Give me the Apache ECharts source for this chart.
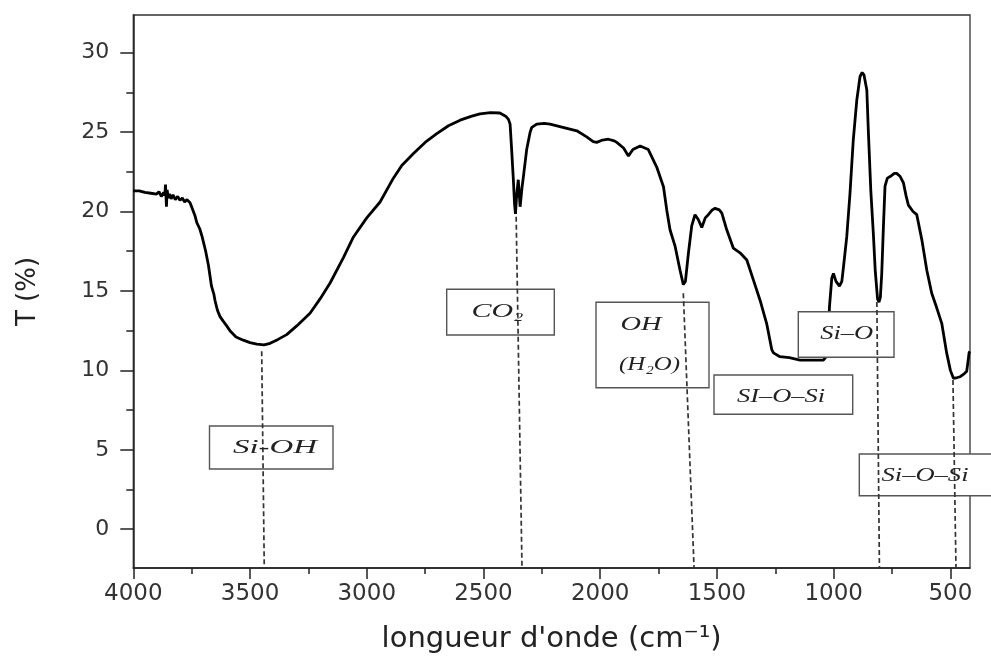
<!DOCTYPE html>
<html><head><meta charset="utf-8">
<script src="https://cdn.jsdelivr.net/npm/echarts@6/dist/echarts.min.js"></script>
<style>html,body{margin:0;padding:0;background:#fff}#c{width:991px;height:657px}</style>
</head><body><div id="c"></div>
<script>
// ---- data ----
const wavenumber = [
  4000,3975,3950,3925,3900,3890,3880,3870,3865,3862,
  3858,3855,3850,3845,3838,3830,3820,3810,3800,3790,
  3780,3770,3757,3745,3735,3728,3715,3705,3700,3690,
  3686,3678,3672,3665,3660,3655,3650,3645,3640,3629,
  3615,3600,3586,3560,3529,3500,3471,3440,3414,3380,
  3343,3300,3243,3200,3157,3100,3057,3000,2943,2886,
  2850,2800,2750,2700,2650,2600,2550,2515,2470,2430,
  2405,2393,2386,2379,2372,2367,2363,2358,2351,2343,
  2335,2329,2315,2300,2293,2272,2240,2215,2160,2100,
  2058,2030,2015,1990,1965,1940,1929,1900,1879,1860,
  1829,1794,1758,1729,1715,1701,1679,1658,1644,1635,
  1622,1608,1594,1580,1565,1550,1537,1520,1508,1490,
  1479,1458,1430,1401,1372,1344,1315,1287,1265,1258,
  1230,1190,1144,1100,1044,1030,1025,1018,1008,1001,
  990,975,965,958,944,930,916,901,887,878,
  870,858,851,841,830,822,812,806,800,794,
  787,780,770,758,740,730,715,701,690,680,
  660,644,622,601,580,560,537,516,500,487,
  470,458,440,430,425,420,417
];
const transmittance = [
  21.3,21.3,21.2,21.15,21.1,21.25,20.95,21.2,21.0,21.7,
  20.3,21.35,20.85,21.1,20.8,21.05,20.75,20.95,20.7,20.85,
  20.6,20.75,20.55,20.1,19.7,19.3,18.9,18.4,18.3,17.5,
  17.2,16.6,16.0,15.3,15.2,14.8,14.4,14.3,13.8,13.4,
  13.1,12.8,12.5,12.1,11.9,11.75,11.65,11.6,11.7,11.95,
  12.25,12.8,13.6,14.5,15.5,17.1,18.4,19.6,20.6,22.1,
  22.9,23.65,24.35,24.9,25.4,25.75,26.0,26.15,26.22,26.2,
  26.0,25.8,25.5,23.8,22.0,20.5,19.85,21.0,22.0,20.3,
  21.5,22.2,23.9,25.0,25.3,25.5,25.55,25.5,25.3,25.08,
  24.7,24.4,24.35,24.5,24.55,24.45,24.35,24.0,23.5,23.9,
  24.12,23.9,22.8,21.56,20.1,18.85,17.8,16.3,15.4,15.6,
  17.4,19.1,19.8,19.5,19.0,19.6,19.8,20.1,20.2,20.1,
  19.9,18.85,17.7,17.4,16.95,15.7,14.4,12.95,11.3,11.1,
  10.86,10.8,10.65,10.65,10.65,10.9,11.5,14.0,15.8,16.1,
  15.6,15.3,15.6,16.5,18.4,21.15,24.5,27.0,28.5,28.75,
  28.6,27.65,24.9,21.35,18.6,16.3,14.5,14.3,14.6,16.1,
  19.0,21.6,22.1,22.2,22.4,22.4,22.2,21.8,21.0,20.4,
  20.0,19.8,18.2,16.3,14.85,14.0,12.96,11.1,10.0,9.5,
  9.55,9.6,9.8,9.95,10.5,11.1,11.2
];
const xTickValues = [4000,3500,3000,2500,2000,1500,1000,500];
const xMinorTickValues = [3750,3250,2750,2250,1750,1250,750];
const yTickValues = [0,5,10,15,20,25,30];
const yMinorTickValues = [2.5,7.5,12.5,17.5,22.5,27.5];

// band assignments: dashed guide from peak (x,T) down to the axis at baseX
const bandNames = ['Si-OH','CO₂','OH (H₂O)','Si–O','Si–O–Si'];
const bandPeakX = [3450,2360,1644,815,489];
const bandPeakT = [11.2,19.67,14.85,14.3,9.4];
const bandBaseX = [3439,2335,1598,804,476];

// ---- layout / style (pixels) ----
const X_MIN = 416, X_MAX = 4000, Y_MIN = -2.44, Y_MAX = 32.37;
const boxes = [
  {x:209.5, y:426, w:123.5, h:43},
  {x:446.7, y:289.3, w:107.6, h:45.7},
  {x:596, y:302.3, w:113, h:85.4},
  {x:714, y:375, w:138.7, h:39.3},
  {x:798.3, y:311.7, w:95.7, h:45.6},
  {x:859.3, y:454, w:140, h:41.7}
];
const texts = [
  {t:'Si-OH', cx:275, cy:448, w:84},
  {t:'CO₂', cx:497.5, cy:312, w:52},
  {t:'OH', cx:641, cy:325, w:41},
  {t:'(H₂O)', cx:649.5, cy:365, w:61},
  {t:'SI–O–Si', cx:781, cy:396.5, w:88},
  {t:'Si–O', cx:846.7, cy:333.5, w:53},
  {t:'Si–O–Si', cx:925, cy:476, w:87}
];
const annFont = 'italic 19px "Liberation Serif"';

const ctx = document.createElement('canvas').getContext('2d');
ctx.font = annFont;

const graphics = [];
boxes.forEach(b => graphics.push({
  type:'rect', z:5, silent:true,
  shape:{x:b.x, y:b.y, width:b.w, height:b.h},
  style:{fill:'#fff', stroke:'#555', lineWidth:1.4}
}));
texts.forEach(t => {
  const mw = ctx.measureText(t.t).width || t.w;
  graphics.push({
    type:'text', z:6, silent:true, x:t.cx, y:t.cy, scaleX:t.w / mw,
    style:{text:t.t, font:annFont, fill:'#222', align:'center', verticalAlign:'middle'}
  });
});

const axisCol = '#222';
const chart = echarts.init(document.getElementById('c'), null, {renderer:'canvas'});
chart.setOption({
  animation:false,
  grid:{left:133.3, right:21, top:15, bottom:89, show:true, borderColor:'#333', borderWidth:1.3, outerBoundsMode:'none'},
  xAxis:[{
    type:'value', min:X_MIN, max:X_MAX, inverse:true, position:'bottom',
    axisLine:{show:true, onZero:false, lineStyle:{color:axisCol, width:1.5}},
    axisTick:{show:true, customValues:xTickValues, length:11, lineStyle:{color:axisCol, width:1.5}},
    axisLabel:{customValues:xTickValues, formatter:v=>String(v), fontSize:23, fontFamily:'DejaVu Sans', color:'#333', margin:15},
    splitLine:{show:false},
    name:"longueur d'onde (cm⁻¹)", nameLocation:'middle', nameGap:57,
    nameTextStyle:{fontSize:29, fontFamily:'DejaVu Sans', color:'#222'}
  },{
    type:'value', min:X_MIN, max:X_MAX, inverse:true, position:'bottom',
    axisLine:{show:false, onZero:false},
    axisTick:{show:true, customValues:xMinorTickValues, length:6, lineStyle:{color:axisCol, width:1.5}},
    axisLabel:{show:false}, splitLine:{show:false}
  }],
  yAxis:[{
    type:'value', min:Y_MIN, max:Y_MAX, position:'left',
    axisLine:{show:true, onZero:false, lineStyle:{color:axisCol, width:1.5}},
    axisTick:{show:true, customValues:yTickValues, length:13, lineStyle:{color:axisCol, width:1.5}},
    axisLabel:{customValues:yTickValues, formatter:v=>String(v), fontSize:22, fontFamily:'DejaVu Sans', color:'#333', margin:24},
    splitLine:{show:false},
    name:'T (%)', nameLocation:'middle', nameGap:92, nameRotate:90,
    nameTextStyle:{fontSize:26, fontFamily:'DejaVu Sans', color:'#222'}
  },{
    type:'value', min:Y_MIN, max:Y_MAX, position:'left',
    axisLine:{show:false, onZero:false},
    axisTick:{show:true, customValues:yMinorTickValues, length:7, lineStyle:{color:axisCol, width:1.5}},
    axisLabel:{show:false}, splitLine:{show:false}
  }],
  graphic:graphics,
  series:[{
    type:'line', xAxisIndex:0, yAxisIndex:0, z:2,
    data:wavenumber.map((w,i)=>[w, transmittance[i]]),
    showSymbol:false, symbol:'none',
    lineStyle:{color:'#000', width:2.8}
  },{
    type:'line', xAxisIndex:0, yAxisIndex:0, z:8, data:[],
    markLine:{
      silent:true, symbol:['none','none'], label:{show:false},
      lineStyle:{type:[5,3], color:'#333', width:1.7},
      data:bandNames.map((n,i)=>[{coord:[bandPeakX[i], bandPeakT[i]]},{coord:[bandBaseX[i], Y_MIN]}])
    }
  }]
});
</script>
</body></html>
